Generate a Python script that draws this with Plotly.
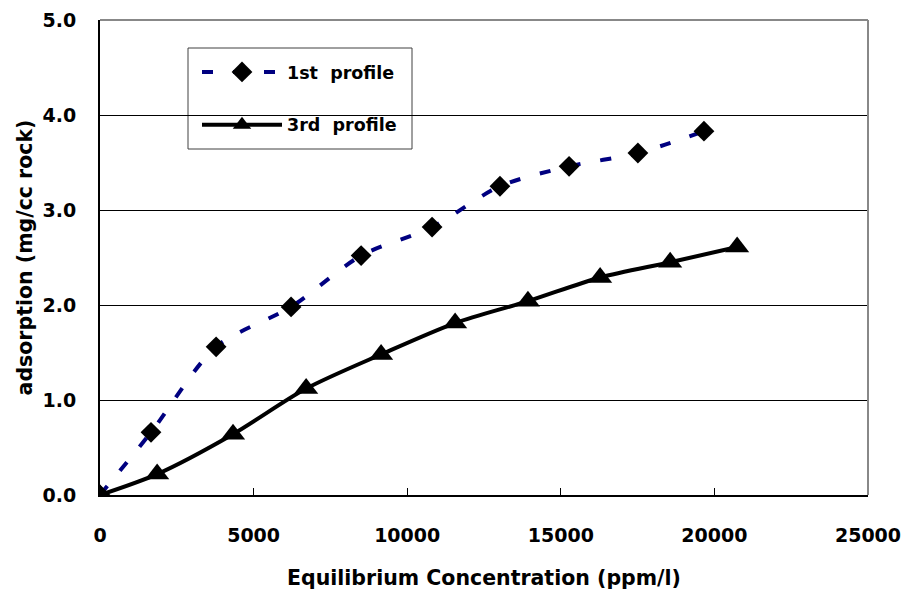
import plotly.graph_objects as go

# Data
conc_1st = [0, 1660, 3780, 6220, 8500, 10810, 13020, 15270, 17510, 19660]
ads_1st = [0, 0.66, 1.56, 1.98, 2.52, 2.82, 3.25, 3.46, 3.60, 3.83]

conc_3rd = [0, 1860, 4330, 6710, 9150, 11560, 13930, 16280, 18560, 20740]
ads_3rd = [0, 0.22, 0.64, 1.12, 1.48, 1.81, 2.04, 2.29, 2.45, 2.61]

x_ticks = [0, 5000, 10000, 15000, 20000, 25000]
x_tick_labels = ["0", "5000", "10000", "15000", "20000", "25000"]
y_ticks = [0, 1, 2, 3, 4, 5]
y_tick_labels = ["0.0", "1.0", "2.0", "3.0", "4.0", "5.0"]

FONT = "DejaVu Sans"

fig = go.Figure()
fig.add_trace(go.Scatter(
    x=conc_1st, y=ads_1st, mode="lines+markers", name="<b>1st\u00a0 profile</b>",
    legendgroup="a",
    line=dict(color="#000080", width=4, dash="11px,20px", shape="spline", smoothing=0.8),
    marker=dict(symbol="diamond", size=16, color="black", line=dict(width=0)),
))
fig.add_trace(go.Scatter(
    x=conc_3rd, y=ads_3rd, mode="lines+markers", name="<b>3rd\u00a0 profile</b>",
    legendgroup="b",
    line=dict(color="black", width=4, shape="spline", smoothing=0.8),
    marker=dict(symbol="triangle-up", size=21, color="black", line=dict(width=0)),
))

fig.update_layout(
    width=909, height=599,
    margin=dict(l=100, r=41, t=20, b=104),
    paper_bgcolor="white", plot_bgcolor="white",
    font=dict(family=FONT, color="black"),
    showlegend=True,
    legend=dict(
        x=(197 - 100) / 768, y=(495 - 54) / 475, xanchor="left", yanchor="top",
        bgcolor="rgba(0,0,0,0)", borderwidth=0,
        font=dict(size=17.5, family=FONT, color="black"),
        itemwidth=80, tracegroupgap=27,
    ),
    xaxis=dict(
        range=[0, 25000], tickvals=x_ticks, ticktext=["<b>%s</b>" % t for t in x_tick_labels],
        ticks="inside", ticklen=7, tickwidth=1,
        tickcolor="black", showgrid=False, zeroline=False,
        showline=True, linecolor="black", linewidth=2,
        tickfont=dict(size=19, family=FONT, color="black"),
        ticklabelstandoff=22, automargin=False,
        title=dict(text="<b>Equilibrium Concentration (ppm/l)</b>", font=dict(size=20.5, family=FONT), standoff=26),
    ),
    yaxis=dict(
        range=[0, 5], tickvals=y_ticks, ticktext=["<b>%s</b>" % t for t in y_tick_labels],
        ticks="", showgrid=True, gridcolor="black", gridwidth=1, zeroline=False,
        showline=True, linecolor="black", linewidth=2,
        tickfont=dict(size=19, family=FONT, color="black"),
        ticklabelstandoff=18, automargin=False,
        title=dict(text="<b>adsorption (mg/cc rock)</b>", font=dict(size=20.5, family=FONT), standoff=4),
    ),
    shapes=[
        dict(type="line", xref="paper", yref="paper", x0=0, x1=1, y0=1, y1=1,
             line=dict(color="#888888", width=2), layer="above"),
        dict(type="line", xref="paper", yref="paper", x0=1, x1=1, y0=0, y1=1,
             line=dict(color="#888888", width=2), layer="above"),
        dict(type="rect", xref="paper", yref="paper",
             x0=(188 - 100) / 768, x1=(412 - 100) / 768,
             y0=(495 - 149) / 475, y1=(495 - 48) / 475,
             line=dict(color="#404040", width=1), fillcolor="white", layer="between"),
    ],
)

fig.write_html("out.html")
